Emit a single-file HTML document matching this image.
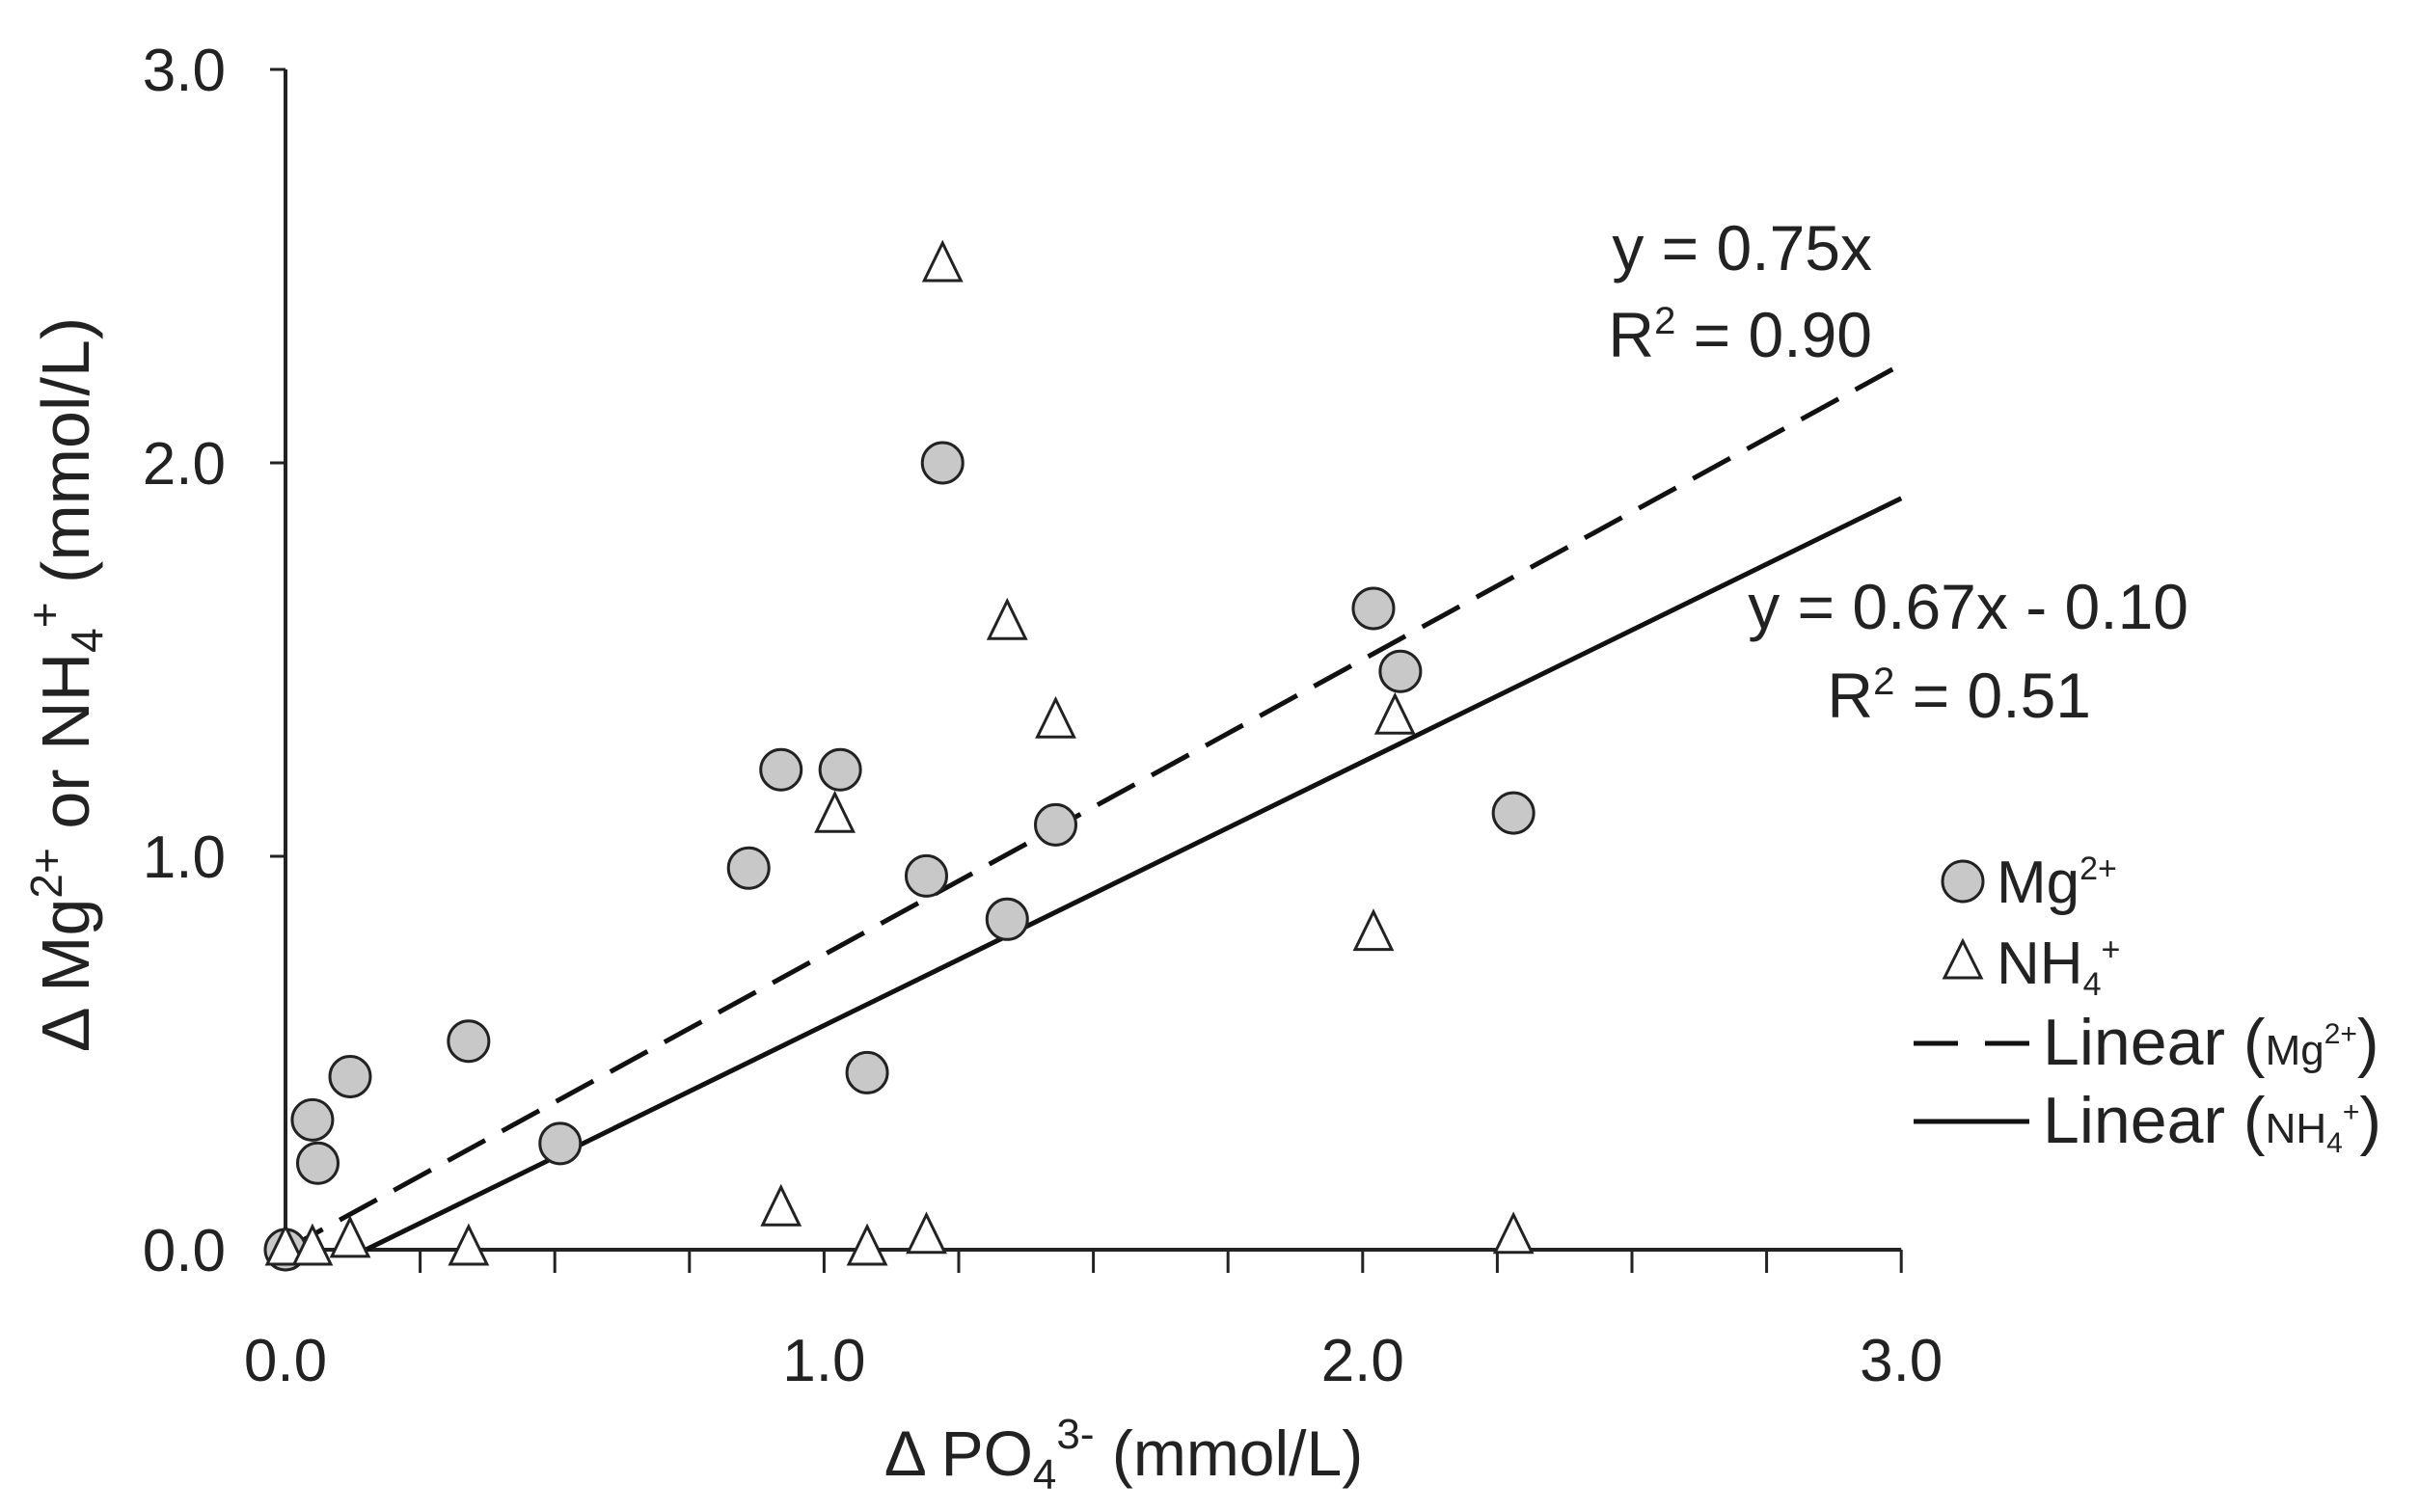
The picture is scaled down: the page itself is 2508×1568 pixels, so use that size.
<!DOCTYPE html>
<html><head><meta charset="utf-8"><style>
html,body{margin:0;padding:0;background:#fff;}
svg{display:block;font-family:"Liberation Sans Narrow","Liberation Sans",sans-serif;}
</style></head><body>
<svg id="chart" width="2508" height="1568" viewBox="0 0 2508 1568">
<g id="axes"></g>
<g id="lines"></g>
<g id="marks"></g>
<text x="1165" y="1530" font-size="66" text-anchor="middle" fill="#222">Δ PO<tspan font-size="44" dy="14">4</tspan><tspan font-size="44" dy="-42">3-</tspan><tspan dy="28"> (mmol/L)</tspan></text>
<text transform="translate(92,710) rotate(-90)" font-size="70" text-anchor="middle" fill="#222">Δ Mg<tspan font-size="46" dy="-28">2+</tspan><tspan dy="28"> or  NH</tspan><tspan font-size="46" dy="14">4</tspan><tspan font-size="46" dy="-44">+</tspan><tspan dy="30"> (mmol/L)</tspan></text>
<text x="1941" y="280" font-size="66" text-anchor="end" fill="#222">y = 0.75x</text>
<text x="1941" y="370" font-size="66" text-anchor="end" fill="#222">R<tspan font-size="40" dy="-24">2</tspan><tspan dy="24"> = 0.90</tspan></text>
<text x="2269" y="652" font-size="66" text-anchor="end" fill="#222">y = 0.67x - 0.10</text>
<text x="2168" y="744" font-size="66" text-anchor="end" fill="#222">R<tspan font-size="40" dy="-24">2</tspan><tspan dy="24"> = 0.51</tspan></text>
<g>
<circle cx="2035" cy="914" r="21" fill="#c8c8c8" stroke="#222" stroke-width="3"/>
<text x="2070" y="936" font-size="62" fill="#222">Mg<tspan font-size="34" dy="-24">2+</tspan></text>
<polygon points="2035,976 2016,1014 2054,1014" fill="#fff" stroke="#222" stroke-width="3"/>
<text x="2070" y="1020" font-size="62" fill="#222">NH<tspan font-size="34" dy="12">4</tspan><tspan font-size="34" dy="-36">+</tspan></text>
<line x1="1984" y1="1082" x2="2104" y2="1082" stroke="#111" stroke-width="5" stroke-dasharray="46,28"/>
<text x="2118" y="1104" font-size="68" fill="#222">Linear (<tspan font-size="44">Mg</tspan><tspan font-size="30" dy="-22">2+</tspan><tspan dy="22">)</tspan></text>
<line x1="1984" y1="1163" x2="2104" y2="1163" stroke="#111" stroke-width="5"/>
<text x="2118" y="1185" font-size="68" fill="#222">Linear (<tspan font-size="44">NH</tspan><tspan font-size="30" dy="10">4</tspan><tspan font-size="30" dy="-32">+</tspan><tspan dy="22">)</tspan></text>
</g>
</svg>
<script>
const xTicks = [0, 1, 2, 3];
const xTickLabels = ["0.0", "1.0", "2.0", "3.0"];
const yTicks = [0, 1, 2, 3];
const yTickLabels = ["0.0", "1.0", "2.0", "3.0"];
const mgX = [0, 0.05, 0.06, 0.12, 0.34, 0.51, 0.86, 0.92, 1.03, 1.08, 1.19, 1.22, 1.34, 1.43, 2.02, 2.07, 2.28];
const mgY = [0, 0.33, 0.22, 0.44, 0.53, 0.27, 0.97, 1.22, 1.22, 0.45, 0.95, 2.0, 0.84, 1.08, 1.63, 1.47, 1.11];
const nhX = [0, 0.05, 0.12, 0.34, 0.92, 1.02, 1.08, 1.19, 1.22, 1.34, 1.43, 2.02, 2.06, 2.28];
const nhY = [0, 0, 0.02, 0, 0.1, 1.1, 0, 0.03, 2.5, 1.59, 1.34, 0.8, 1.35, 0.03];
const mgFit = [0.75, 0];
const nhFit = [0.67, -0.10];

const NS = "http://www.w3.org/2000/svg";
const X0 = 296, XU = 558.4, Y0 = 1296, YU = 408;
const sx = v => X0 + v * XU;
const sy = v => Y0 - v * YU;
function mk(tag, attrs, parent) {
  const e = document.createElementNS(NS, tag);
  for (const k in attrs) e.setAttribute(k, attrs[k]);
  parent.appendChild(e);
  return e;
}
const axes = document.getElementById("axes");
let a = mk("line", {x1: sx(0), y1: sy(0), x2: sx(3), y2: sy(0), stroke: "#222", "stroke-width": 4}, axes);


a = mk("line", {x1: sx(0), y1: sy(0), x2: sx(0), y2: sy(3), stroke: "#222", "stroke-width": 4}, axes);


for (let v = 0.25; v <= 3.001; v += 0.25) {
  const t = mk("line", {x1: sx(v), y1: sy(0), x2: sx(v), y2: sy(0) + 24, stroke: "#222", "stroke-width": 3}, axes);
  
  
}
xTicks.forEach((v, i) => {
  const t = mk("text", {x: sx(v), y: 1432, "font-size": 62, "text-anchor": "middle", fill: "#222"}, axes);
  t.textContent = xTickLabels[i];
  
  
});
yTicks.forEach((v, i) => {
  const m = mk("line", {x1: sx(0) - 16, y1: sy(v), x2: sx(0), y2: sy(v), stroke: "#222", "stroke-width": 3}, axes);
  
  
  const t = mk("text", {x: 234, y: sy(v) + 22, "font-size": 62, "text-anchor": "end", fill: "#222"}, axes);
  t.textContent = yTickLabels[i];
  
  
});
const lines = document.getElementById("lines");
let l = mk("line", {x1: sx(0), y1: sy(mgFit[1]), x2: sx(3), y2: sy(mgFit[0] * 3 + mgFit[1]), stroke: "#111", "stroke-width": 5, "stroke-dasharray": "44,20"}, lines);


const xs = -nhFit[1] / nhFit[0];
l = mk("line", {x1: sx(xs), y1: sy(0), x2: sx(3), y2: sy(nhFit[0] * 3 + nhFit[1]), stroke: "#111", "stroke-width": 5}, lines);


const marks = document.getElementById("marks");
mgX.forEach((x, i) => {
  const c = mk("circle", {cx: sx(x), cy: sy(mgY[i]), r: 21, fill: "#c8c8c8", stroke: "#222", "stroke-width": 3}, marks);
  
  
});
nhX.forEach((x, i) => {
  const cx = sx(x), cy = sy(nhY[i]);
  const p = mk("polygon", {points: `${cx},${cy - 24} ${cx - 19},${cy + 15} ${cx + 19},${cy + 15}`, fill: "#fff", stroke: "#222", "stroke-width": 3}, marks);
  
  
});
</script>
</body></html>
